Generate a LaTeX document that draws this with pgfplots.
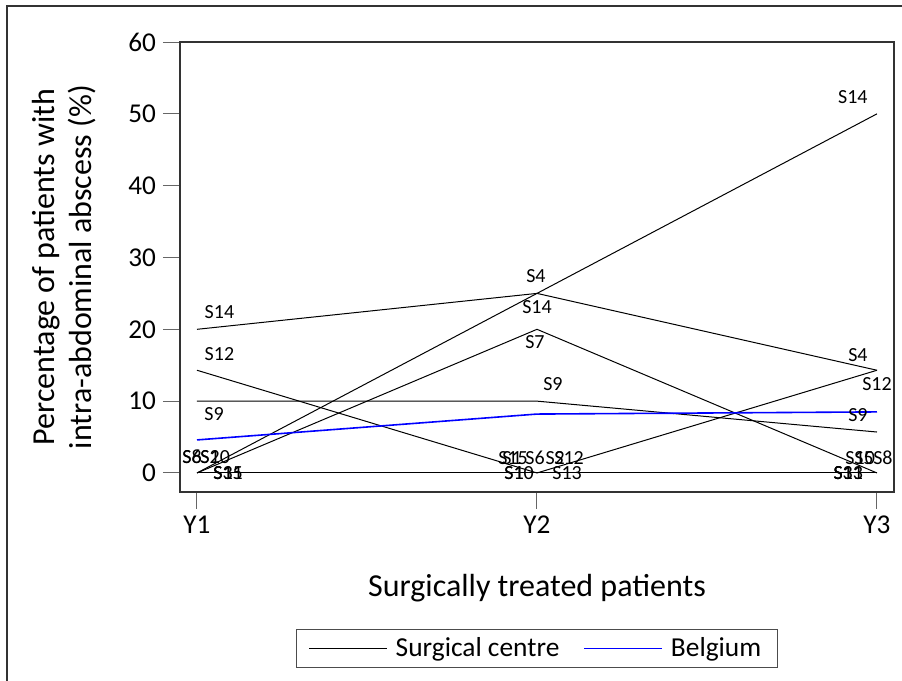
\documentclass[border=0pt]{standalone}
\usepackage{pgfplots}
\pgfplotsset{compat=1.18}
\usepackage{fontspec}
\setmainfont{Carlito}
\begin{document}
\begin{tikzpicture}
\path[use as bounding box] (0,0) rectangle (451pt,340.5pt);
\draw[line width=0.6pt, black!80] (3.5pt,0) -- (3.5pt,337.5pt) -- (451pt,337.5pt);
\begin{axis}[
 at={(90pt,94.5pt)}, anchor=south west,
 scale only axis, width=357pt, height=225pt,
 xmin=-0.05, xmax=2.05, ymin=-2.65, ymax=60,
 xtick={0,1,2}, xticklabels={Y1,Y2,Y3},
 ytick={0,10,20,30,40,50,60},
 tick align=outside, tick pos=left,
 major tick length=8.5pt,
 tick style={black!60, line width=0.5pt},
 axis line style={black!80, line width=0.7pt},
 ticklabel style={font=\fontsize{13.6}{16}\selectfont},
 /pgf/number format/assume math mode=true,
 xlabel={Surgically treated patients},
 ylabel={Percentage of patients with\\intra-abdominal abscess (\%)},
 label style={font=\fontsize{16}{18.5}\selectfont},
 ylabel style={align=center, at={(axis description cs:-0.163,0.5)}, anchor=center},
 xlabel style={at={(axis description cs:0.5,-0.213)}, anchor=center},
 legend columns=2,
 legend image code/.code={\draw[#1] (0pt,0pt) -- (39pt,0pt);},
 legend style={at={(0.5,-0.3044)}, anchor=north, draw=black!70, line width=0.5pt,
   font=\fontsize{13.7}{16}\selectfont, inner xsep=6pt, inner ysep=2pt,
   /tikz/every even column/.append style={column sep=10pt},
   /tikz/every odd column/.append style={column sep=2pt}},
 clip=false,
]
\addplot[black, line width=0.5pt] coordinates {(0,20) (1,25) (2,50)};
\addlegendentry{Surgical centre}
\addplot[black, line width=0.5pt, forget plot] coordinates {(0,0) (1,25) (2,14.3)};
\addplot[black, line width=0.5pt, forget plot] coordinates {(0,14.3) (1,0) (2,14.3)};
\addplot[black, line width=0.5pt, forget plot] coordinates {(0,10) (1,10) (2,5.7)};
\addplot[black, line width=0.5pt, forget plot] coordinates {(0,0) (1,20) (2,0)};
\addplot[black, line width=0.5pt, forget plot] coordinates {(0,0) (1,0) (2,0)};
\addplot[blue, line width=0.8pt] coordinates {(0,4.6) (1,8.2) (2,8.5)};
\addlegendentry{Belgium}
% point labels
\begin{scope}[every node/.style={font=\fontsize{10}{12}\selectfont, inner sep=0pt}]
\node at (axis cs:0.066,22.4) {S14};
\node at (axis cs:0.066,16.6) {S12};
\node at (axis cs:0.05,8.2) {S9};
\node[anchor=west] at (axis cs:-0.044,2.2) {S6};
\node[anchor=west] at (axis cs:-0.044,2.2) {S8};
\node[anchor=west] at (axis cs:0.009,2.2) {S10};
\node[anchor=west] at (axis cs:0.009,2.2) {S2};
\node[anchor=west] at (axis cs:0.047,0) {S3};
\node[anchor=west] at (axis cs:0.047,0) {S11};
\node[anchor=west] at (axis cs:0.047,0) {S15};
\node at (axis cs:0.997,27.4) {S4};
\node at (axis cs:1.0,23.1) {S14};
\node at (axis cs:0.994,18.2) {S7};
\node at (axis cs:1.047,12.4) {S9};
\node[anchor=west] at (axis cs:0.885,2.1) {S15};
\node[anchor=west] at (axis cs:0.897,2.1) {S1};
\node[anchor=west] at (axis cs:0.965,2.1) {S6};
\node[anchor=west] at (axis cs:1.024,2.1) {S2};
\node[anchor=west] at (axis cs:1.050,2.1) {S12};
\node[anchor=west] at (axis cs:0.903,0) {S10};
\node[anchor=west] at (axis cs:0.903,0) {S1};
\node[anchor=west] at (axis cs:1.044,0) {S13};
\node at (axis cs:1.929,52.4) {S14};
\node at (axis cs:1.944,16.4) {S4};
\node at (axis cs:2.0,12.4) {S12};
\node at (axis cs:1.944,8.1) {S9};
\node[anchor=west] at (axis cs:1.906,2.1) {S10};
\node[anchor=west] at (axis cs:1.932,2.1) {S5};
\node[anchor=west] at (axis cs:1.988,2.1) {S8};
\node[anchor=west] at (axis cs:1.871,0) {S11};
\node[anchor=west] at (axis cs:1.871,0) {S13};
\node[anchor=west] at (axis cs:1.871,0) {S3};
\end{scope}
\end{axis}
\end{tikzpicture}
\end{document}
